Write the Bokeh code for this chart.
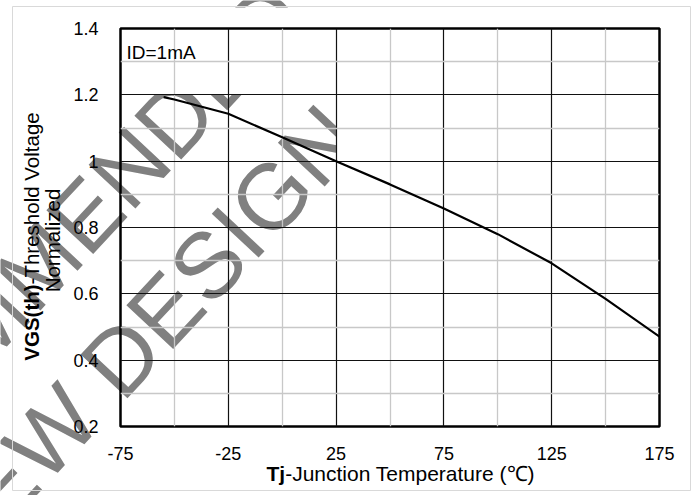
import math
from bokeh.plotting import figure
from bokeh.layouts import column
from bokeh.models import FixedTicker, Label, Range1d
from bokeh.core.properties import value
from bokeh.embed import file_html
from bokeh.resources import INLINE

# ---- data ----
temp_c = [-55, -50, -25, 0, 25, 50, 75, 100, 125, 150, 175]
vth_norm = [1.193, 1.186, 1.143, 1.072, 1.0, 0.93, 0.857, 0.78, 0.692, 0.585, 0.471]
x_ticks = [-75, -25, 25, 75, 125, 175]
x_minor = [-50, 0, 50, 100, 150]
x_tick_labels = ["-75", "-25", "25", "75", "125", "175"]
y_ticks = [0.2, 0.4, 0.6, 0.8, 1.0, 1.2, 1.4]
y_minor = [0.3, 0.5, 0.7, 0.9, 1.1, 1.3]
y_tick_labels = ["0.2", "0.4", "0.6", "0.8", "1", "1.2", "1.4"]
condition_text = "ID=1mA"
y_title_bold = "VGS(th)"
y_title_rest = "-Threshold Voltage"
y_title_line2 = "Normalized"
x_title_bold = "Tj"
x_title_rest = "-Junction Temperature (\u2103)"
wm_lines = ["NOT RECOMMENDED", "FOR NEW DESIGN"]

W, H = 694, 495
L, R, T, B = 120, 659, 28, 426
XMIN, XMAX, YMIN, YMAX = -75, 175, 0.2, 1.4
FONT = "Liberation Sans"

# ---------- background layer: data units = page pixels (y measured upward) ----------
bg = figure(width=W, height=H, x_range=Range1d(0, W), y_range=Range1d(0, H),
            output_backend="svg", toolbar_location=None,
            x_axis_location=None, y_axis_location=None,
            min_border=0, frame_align=False)
bg.grid.visible = False
bg.outline_line_color = None
bg.background_fill_color = "white"
bg.border_fill_color = "white"

def up(py):  # page y (from top) -> bg data y
    return H - py

# watermark (glyph text, drawn first)
F = 93
ang = math.radians(47)
c, s = math.cos(ang), math.sin(ang)

def wm_start(cx, cy, along_em, up_em=0.358):
    a, h = along_em * F, up_em * F
    return cx - a * c + h * s, cy + a * s + h * c

starts = []
for (cx, cy), along in (((152, 94), 2.389 + 6.305),
                        ((97, 334), 2.389 + 2.972)):
    sx, sy = wm_start(cx, cy, along)
    starts.append((sx, up(sy)))
bg.text(x=[st[0] for st in starts], y=[st[1] for st in starts], text=wm_lines,
        angle=ang, text_font=value(FONT), text_font_size=value(f"{F}px"),
        text_color="#808080", text_align="left", text_baseline="alphabetic")

# watermark is cut off above the 1.2 line and to the right of the 25 line
bg.quad(left=[13, 336], right=[689, 689], top=[up(7), up(94)], bottom=[up(94), up(440)],
        fill_color="white", line_color=None)

# light outer frame
bg.quad(left=[12], right=[690], top=[up(6)], bottom=[up(490)],
        fill_color=None, line_color="#d9d9d9", line_width=1)

# y title (rotated)
TS = 20.5
y_center = 240
bold_w = 3.722 * TS
rest_w = 8.004 * TS
y_start = y_center + (bold_w + rest_w) / 2
bg.add_layout(Label(x=31, y=up(y_start), text=y_title_bold, angle=math.pi / 2,
                    text_font=FONT, text_font_size=f"{TS}px", text_font_style="bold",
                    text_color="black", text_align="left", text_baseline="alphabetic"))
bg.add_layout(Label(x=31, y=up(y_start - bold_w), text=y_title_rest, angle=math.pi / 2,
                    text_font=FONT, text_font_size=f"{TS}px",
                    text_color="black", text_align="left", text_baseline="alphabetic"))
bg.add_layout(Label(x=52, y=up(y_center), text=y_title_line2, angle=math.pi / 2,
                    text_font=FONT, text_font_size=f"{TS}px",
                    text_color="black", text_align="center", text_baseline="alphabetic"))

# x title
XS = 21
x_start = 266
tj_w = 0.889 * XS
bg.add_layout(Label(x=x_start, y=up(473), text=x_title_bold, text_font=FONT,
                    text_font_size=f"{XS}px", text_font_style="bold", text_color="black",
                    text_align="left", text_baseline="alphabetic"))
bg.add_layout(Label(x=x_start + tj_w, y=up(473), text=x_title_rest, text_font=FONT,
                    text_font_size=f"{XS}px", text_color="black",
                    text_align="left", text_baseline="alphabetic"))

# ---------- chart layer (transparent, on top) ----------
p = figure(width=W, height=H, x_range=(XMIN, XMAX), y_range=(YMIN, YMAX),
           output_backend="svg", toolbar_location=None,
           min_border_left=L, min_border_right=W - R,
           min_border_top=T, min_border_bottom=H - B, frame_align=False)
p.background_fill_alpha = 0
p.border_fill_alpha = 0
p.outline_line_color = "black"
p.outline_line_width = 2.5
p.styles = {"margin-top": f"-{H}px"}

p.xaxis.ticker = FixedTicker(ticks=x_ticks, minor_ticks=x_minor)
p.yaxis.ticker = FixedTicker(ticks=y_ticks, minor_ticks=y_minor)
p.xaxis.major_label_overrides = {t: s_ for t, s_ in zip(x_ticks, x_tick_labels)}
p.yaxis.major_label_overrides = {t: s_ for t, s_ in zip(y_ticks, y_tick_labels)}
for ax in (p.xaxis, p.yaxis):
    ax.axis_line_color = None
    ax.major_tick_line_color = None
    ax.minor_tick_line_color = None
    ax.major_label_text_font = FONT
    ax.major_label_text_font_size = "18px"
    ax.major_label_text_color = "black"
p.xaxis.major_label_standoff = 14
p.yaxis.major_label_standoff = 16

for g in (p.xgrid, p.ygrid):
    g.grid_line_color = "#111111"
    g.grid_line_width = 1.2
    g.minor_grid_line_color = "#c8c8c8"
    g.minor_grid_line_width = 1.3

p.line(temp_c, vth_norm, line_color="black", line_width=2.2)

p.add_layout(Label(x=XMIN, y=YMAX, x_offset=6, y_offset=-24, text=condition_text,
                   text_font=FONT, text_font_size="19px", text_color="black",
                   text_baseline="alphabetic"))

layout = column(bg, p, spacing=0)
open("out.html", "w").write(file_html(layout, INLINE))
